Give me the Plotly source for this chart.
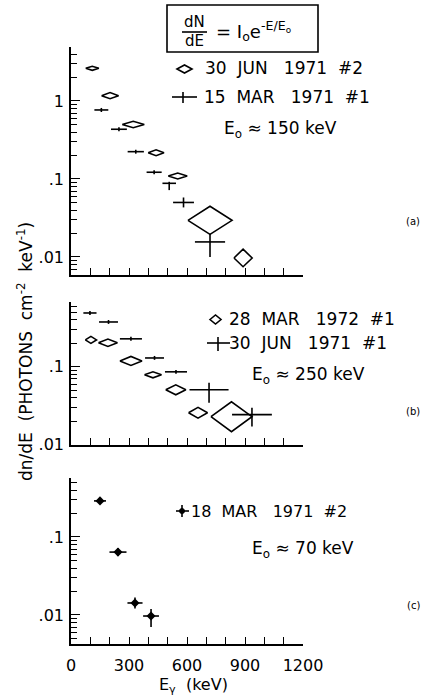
import plotly.graph_objects as go

# ---------------- data ----------------
# Panel (a): 30 JUN 1971 #2 (diamonds), 15 MAR 1971 #1 (crosses)
a_dia_E = [110, 202, 322, 440, 552, 719, 890]
a_dia_dE = [34, 44, 57, 41, 49, 114, 47]
a_dia_flux = [2.62, 1.17, 0.50, 0.217, 0.109, 0.0295, 0.0097]
a_dia_up = [0.16, 0.11, 0.05, 0.020, 0.010, 0.0152, 0.0029]
a_dia_dn = [0.15, 0.10, 0.045, 0.018, 0.009, 0.0100, 0.0022]

a_crs_E = [157, 248, 335, 430, 508, 582, 719]
a_crs_dE = [36, 41, 42, 39, 35, 54, 78]
a_crs_flux = [0.767, 0.434, 0.224, 0.122, 0.088, 0.050, 0.0156]
a_crs_up = [0.047, 0.026, 0.013, 0.007, 0.004, 0.0079, 0.0042]
a_crs_dn = [0.045, 0.025, 0.013, 0.007, 0.016, 0.0068, 0.0056]

# Panel (b): 28 MAR 1972 #1 (diamonds), 30 JUN 1971 #1 (crosses)
b_dia_E = [103, 191, 310, 424, 542, 657, 830]
b_dia_dE = [29, 49, 57, 44, 52, 49, 106]
b_dia_flux = [0.222, 0.204, 0.119, 0.079, 0.0507, 0.0257, 0.0229]
b_dia_up = [0.0243, 0.0233, 0.0170, 0.0073, 0.0080, 0.0045, 0.0127]
b_dia_dn = [0.0218, 0.0209, 0.0149, 0.0067, 0.0069, 0.0038, 0.0082]

b_crs_E = [98, 194, 310, 432, 543, 714, 936]
b_crs_dE = [34, 49, 57, 49, 57, 101, 103]
b_crs_flux = [0.492, 0.377, 0.229, 0.130, 0.0863, 0.0507, 0.0243]
b_crs_up = [0.030, 0.023, 0.014, 0.008, 0.005, 0.0116, 0.0056]
b_crs_dn = [0.028, 0.021, 0.013, 0.007, 0.005, 0.0162, 0.0072]

# Panel (c): 18 MAR 1971 #2
c_E = [150, 243, 331, 414]
c_dE = [31, 44, 39, 41]
c_flux = [0.29, 0.064, 0.01425, 0.0097]
c_up = [0.027, 0.0080, 0.0025, 0.0022]
c_dn = [0.025, 0.0071, 0.0021, 0.0027]

x_tickvals = [0, 300, 600, 900, 1200]
x_ticktext = ["0", "300", "600", "900", "1200"]
y_tickvals = [0.01, 0.1, 1]
y_ticktext = [".01", ".1", "1"]
y_minor = [m * 10.0 ** k for k in (-3, -2, -1, 0) for m in range(2, 10)]

legend_a = ["30\u00a0 JUN\u00a0\u00a0 1971\u00a0 #2", "15\u00a0 MAR\u00a0\u00a0 1971\u00a0 #1"]
legend_b = ["28\u00a0 MAR\u00a0\u00a0 1972\u00a0 #1", "30\u00a0 JUN\u00a0\u00a0 1971\u00a0 #1"]
legend_c = ["18\u00a0 MAR\u00a0\u00a0 1971\u00a0 #2"]
e0_text = ["E<sub>o</sub> \u2248 150\u00a0keV", "E<sub>o</sub> \u2248 250\u00a0keV", "E<sub>o</sub> \u2248 70\u00a0keV"]
panel_labels = ["(a)", "(b)", "(c)"]

# ---------------- figure ----------------
FONT = "DejaVu Sans"
W, H = 423, 698
L, R, T, B = 71, 120, 47, 54
PW, PH = W - L - R, H - T - B


def px(xp):
    return (xp - L) / PW


def py(yp):
    return (H - B - yp) / PH


def diamond_path(E, dE, f, up, dn):
    xs, ys = [], []
    for e, d, v, u, w in zip(E, dE, f, up, dn):
        xs += [e - d, e, e + d, e, e - d, None]
        ys += [v, v + u, v, v - w, v, None]
    return xs, ys


fig = go.Figure()
LW = 1.6


def add_diamonds(E, dE, f, up, dn, xa, ya, name):
    xs, ys = diamond_path(E, dE, f, up, dn)
    fig.add_trace(go.Scatter(x=xs, y=ys, mode="lines", name=name,
                             line=dict(color="black", width=LW),
                             xaxis=xa, yaxis=ya, showlegend=False))


def add_crosses(E, dE, f, up, dn, xa, ya, name, dot=False):
    fig.add_trace(go.Scatter(
        x=E, y=f, mode="markers", name=name,
        marker=dict(symbol="diamond", size=7 if dot else 1, color="black"),
        error_x=dict(type="data", array=dE, width=0, thickness=LW, color="black"),
        error_y=dict(type="data", symmetric=False, array=up, arrayminus=dn,
                     width=0, thickness=LW, color="black"),
        xaxis=xa, yaxis=ya, showlegend=False))


add_diamonds(a_dia_E, a_dia_dE, a_dia_flux, a_dia_up, a_dia_dn, "x", "y", legend_a[0])
add_crosses(a_crs_E, a_crs_dE, a_crs_flux, a_crs_up, a_crs_dn, "x", "y", legend_a[1])
add_diamonds(b_dia_E, b_dia_dE, b_dia_flux, b_dia_up, b_dia_dn, "x2", "y2", legend_b[0])
add_crosses(b_crs_E, b_crs_dE, b_crs_flux, b_crs_up, b_crs_dn, "x2", "y2", legend_b[1])
add_crosses(c_E, c_dE, c_flux, c_up, c_dn, "x3", "y3", legend_c[0], dot=True)

ax_common = dict(showline=True, linewidth=LW, linecolor="black", showgrid=False,
                 zeroline=False, ticks="inside", tickcolor="black", tickwidth=1.3,
                 tickfont=dict(family=FONT, size=16, color="black"))
xcommon = dict(ax_common, range=[0, 1200], tickmode="array", tickvals=x_tickvals,
               ticktext=x_ticktext, ticklen=7,
               minor=dict(ticks="inside", dtick=100, tick0=0, ticklen=7,
                          tickcolor="black", tickwidth=1.3))
ycommon = dict(ax_common, type="log", tickmode="array", tickvals=y_tickvals,
               ticktext=y_ticktext, ticklen=9, ticklabelstandoff=2,
               minor=dict(ticks="inside", tickmode="array", tickvals=y_minor,
                          ticklen=6, tickcolor="black", tickwidth=1.3))

dom_a = [py(275), py(T)]
dom_b = [py(445), py(302)]
dom_c = [py(H - B), py(478)]

fig.update_layout(
    width=W, height=H,
    margin=dict(l=L, r=R, t=T, b=B),
    paper_bgcolor="white", plot_bgcolor="white",
    font=dict(family=FONT, color="black"),
    xaxis=dict(xcommon, anchor="y", domain=[0, 1], showticklabels=False),
    yaxis=dict(ycommon, anchor="x", domain=dom_a, range=[-2.231, 0.692]),
    xaxis2=dict(xcommon, anchor="y2", domain=[0, 1], showticklabels=False),
    yaxis2=dict(ycommon, anchor="x2", domain=dom_b, range=[-2.004, -0.167]),
    xaxis3=dict(xcommon, anchor="y3", domain=[0, 1], showticklabels=True,
                ticklabelstandoff=6),
    yaxis3=dict(ycommon, anchor="x3", domain=dom_c, range=[-2.372, -0.244]),
)

ann = []
shapes = []


def text(s, xp, yp, size=17, xanchor="left", angle=0):
    ann.append(dict(text=s, x=px(xp), y=py(yp), xref="paper", yref="paper",
                    xanchor=xanchor, yanchor="middle", showarrow=False,
                    textangle=angle, font=dict(family=FONT, size=size, color="black")))


def line(x0, y0, x1, y1, w=LW):
    shapes.append(dict(type="line", xref="paper", yref="paper",
                       x0=px(x0), y0=py(y0), x1=px(x1), y1=py(y1),
                       line=dict(color="black", width=w)))


def dia_sym(cx, cy, hw, hh):
    path = "M {} {} L {} {} L {} {} L {} {} Z".format(
        px(cx - hw), py(cy), px(cx), py(cy - hh), px(cx + hw), py(cy), px(cx), py(cy + hh))
    shapes.append(dict(type="path", xref="paper", yref="paper", path=path,
                       line=dict(color="black", width=LW)))


# equation box
shapes.append(dict(type="rect", xref="paper", yref="paper",
                   x0=px(167), y0=py(52), x1=px(318), y1=py(5),
                   line=dict(color="black", width=LW)))
text("dN", 194, 22, size=15, xanchor="center")
text("dE", 194, 41, size=15, xanchor="center")
line(182, 32, 207, 32)
text("= I<sub>o</sub>e<sup>-E/E<sub>o</sub></sup>", 214, 31, size=18)

# panel (a) legend
dia_sym(184.5, 69, 7.5, 4)
text(legend_a[0], 203, 68)
line(172, 97, 197, 97)
line(183, 92, 183, 103)
text(legend_a[1], 202, 97)
text(e0_text[0], 222, 129)

# panel (b) legend
dia_sym(215.5, 319.5, 5.5, 4.5)
text(legend_b[0], 227, 319)
line(207, 343, 230, 343)
line(218, 337, 218, 351)
text(legend_b[1], 227, 343)
text(e0_text[1], 250, 375)

# panel (c) legend
line(176, 511, 189, 511)
line(182, 505, 182, 517)
shapes.append(dict(type="circle", xref="paper", yref="paper",
                   x0=px(179.5), y0=py(513.5), x1=px(184.5), y1=py(508.5),
                   fillcolor="black", line=dict(color="black", width=1)))
text(legend_c[0], 189, 511, size=16)
text(e0_text[2], 250, 549)

# panel labels
text(panel_labels[0], 413, 222, size=10, xanchor="center")
text(panel_labels[1], 413, 412, size=10, xanchor="center")
text(panel_labels[2], 413, 605, size=10, xanchor="center")

# axis titles
text("dn/dE\u00a0 (PHOTONS\u00a0 cm<sup>-2</sup>\u00a0 keV<sup>-1</sup>)", 25, 352,
     size=17, xanchor="center", angle=-90)
text("E<sub>\u03b3</sub>\u00a0 (keV)", 193, 685, size=16, xanchor="center")

fig.update_layout(annotations=ann, shapes=shapes)
fig.write_html("out.html", config={"displayModeBar": False},
               post_script="document.body.style.margin='0px';document.body.style.overflow='hidden';")
